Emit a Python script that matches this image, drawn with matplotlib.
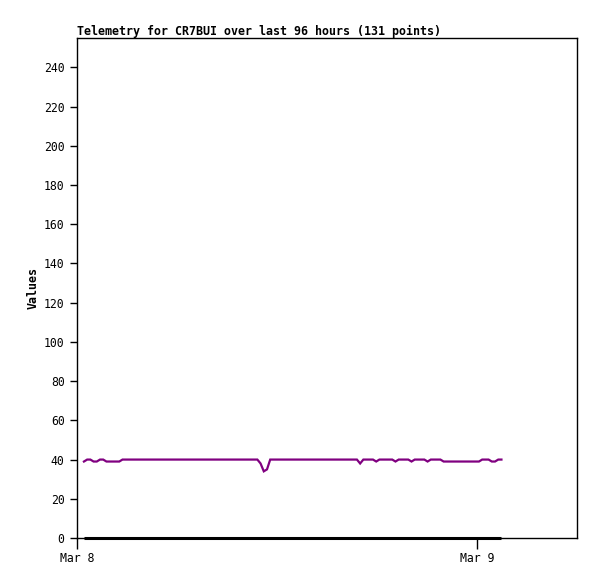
import matplotlib
matplotlib.use('Agg')
import matplotlib.pyplot as plt
import matplotlib.dates as mdates
import pandas as pd

# telemetry samples (131 points, ~11.5 min apart)
t_start = '2024-03-08 00:25'
t_end = '2024-03-09 01:28'
values = [39, 40, 40, 39, 39, 40, 40, 39, 39, 39, 39, 39,
          40, 40, 40, 40, 40, 40, 40, 40, 40, 40, 40, 40, 40, 40, 40, 40,
          40, 40, 40, 40, 40, 40, 40, 40, 40, 40, 40, 40, 40, 40, 40, 40,
          40, 40, 40, 40, 40, 40, 40, 40, 40, 40, 40,
          38, 34, 35,
          40, 40, 40, 40, 40, 40, 40, 40, 40, 40, 40, 40, 40, 40, 40, 40,
          40, 40, 40, 40, 40, 40, 40, 40, 40, 40, 40, 40,
          38, 40, 40, 40, 40, 39, 40, 40, 40, 40, 40, 39, 40, 40, 40, 40,
          39, 40, 40, 40, 40, 39, 40, 40, 40, 40,
          39, 39, 39, 39, 39, 39, 39, 39, 39, 39, 39, 39,
          40, 40, 40, 39, 39, 40, 40]
zeros = [0] * len(values)
times = pd.date_range(t_start, t_end, periods=len(values))

x_min, x_max = pd.Timestamp('2024-03-08 00:00'), pd.Timestamp('2024-03-09 06:00')
y_ticks = [0, 20, 40, 60, 80, 100, 120, 140, 160, 180, 200, 220, 240]

plt.rcParams['font.family'] = 'DejaVu Sans Mono'

fig = plt.figure(figsize=(5.97, 5.79), dpi=100)
ax = fig.add_axes([77/597, 1 - 538/579, 500/597, 500/579])

ax.plot(times, zeros, color='black', linewidth=2.2, solid_capstyle='butt',
        clip_on=False, zorder=3)
ax.plot(times, values, color='#800080', linewidth=1.6, solid_joinstyle='miter')

ax.set_xlim(x_min, x_max)
ax.set_ylim(0, 255)
ax.set_yticks(y_ticks)
ax.xaxis.set_major_locator(mdates.DayLocator())
ax.xaxis.set_major_formatter(mdates.DateFormatter('%b %-d'))
ax.tick_params(axis='y', length=5, width=1, labelsize=8.3, pad=4)
ax.tick_params(axis='x', length=8, width=1, labelsize=8.3, pad=2)
for s in ax.spines.values():
    s.set_linewidth(1)

ax.set_ylabel('Values', fontsize=8.4, fontweight='bold', labelpad=3)
ax.set_title('Telemetry for CR7BUI over last 96 hours (131 points)',
             loc='left', fontsize=8.4, fontweight='bold', pad=2)

fig.savefig('out.png', dpi=100)
